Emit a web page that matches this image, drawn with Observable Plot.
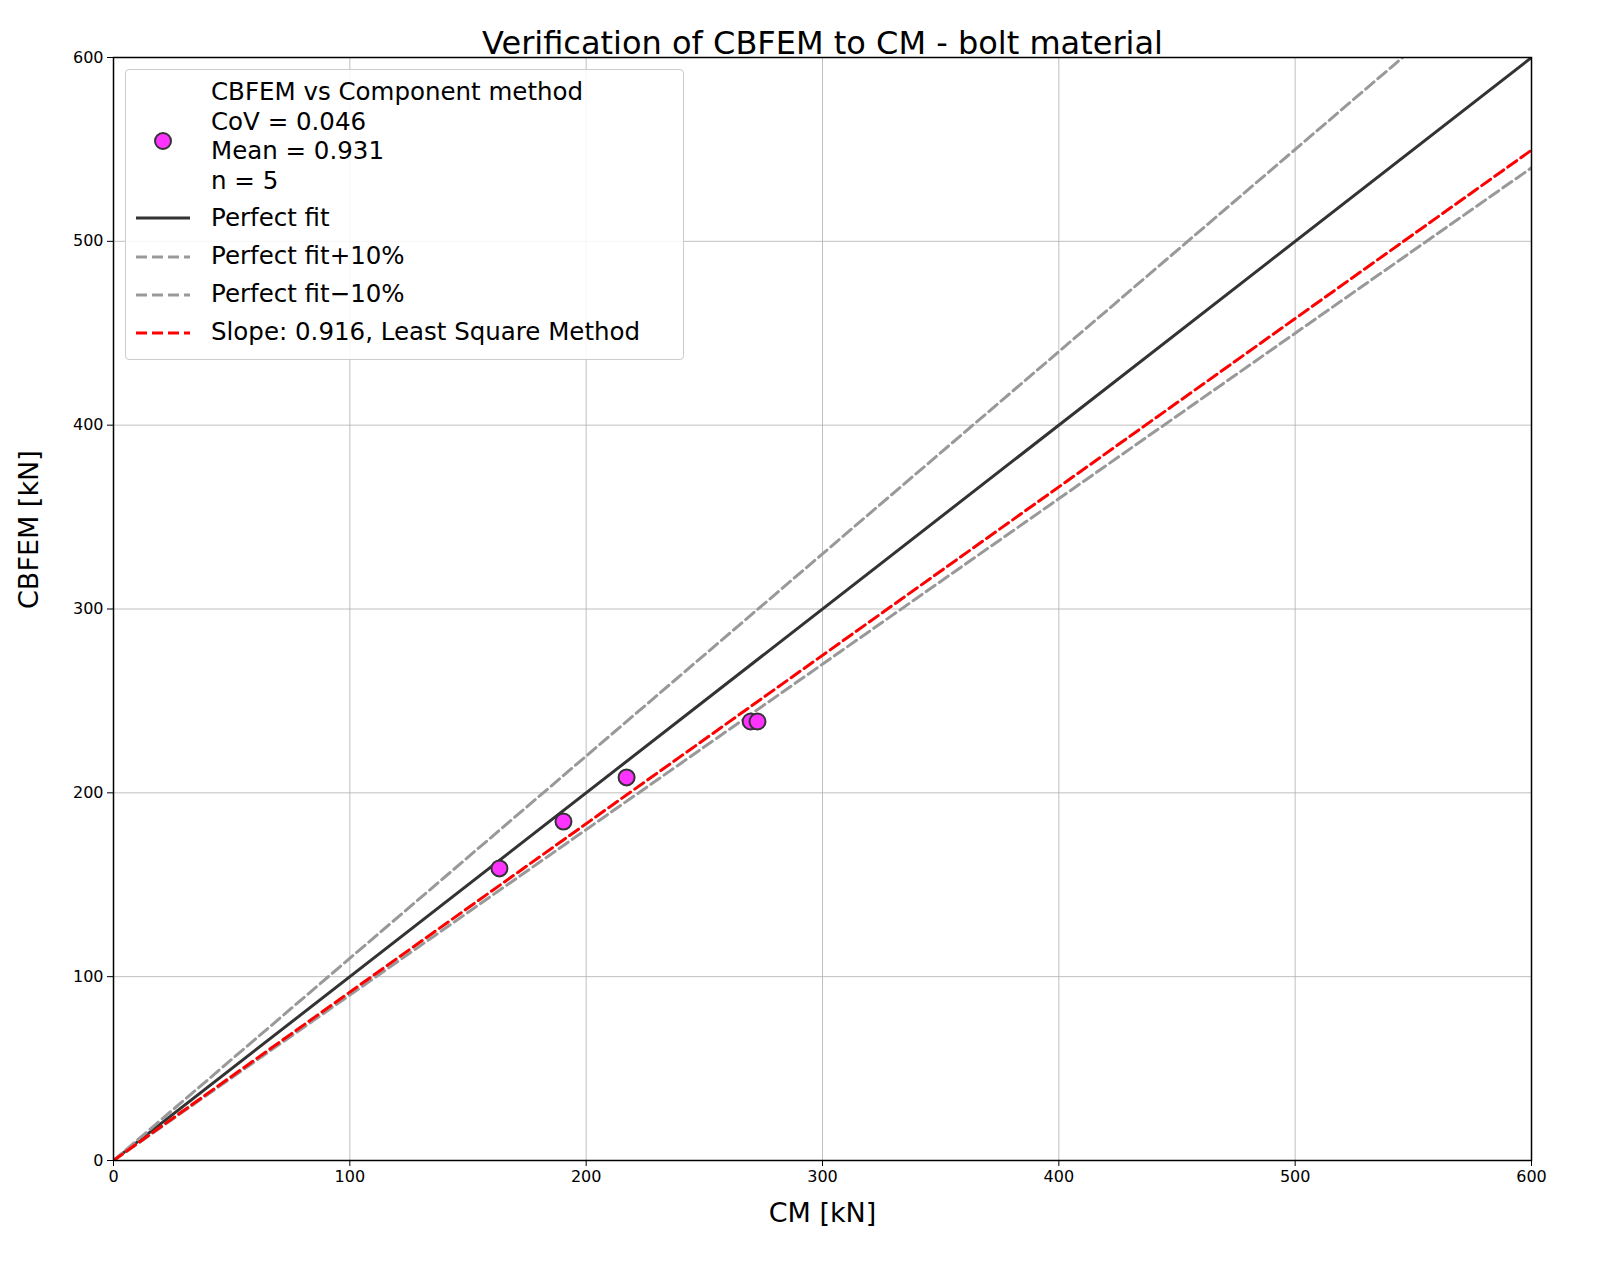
<!DOCTYPE html>
<html><head><meta charset="utf-8">
<script src="https://cdn.jsdelivr.net/npm/d3@7"></script>
<script src="https://cdn.jsdelivr.net/npm/@observablehq/plot@0.6"></script>
<style>
body{margin:0;background:#fff;font-family:"DejaVu Sans",sans-serif;}
#wrap{position:relative;width:1600px;height:1279px;}
#legend{position:absolute;left:125px;top:69px;width:557px;height:289px;border:1px solid #ccc;border-radius:4px;background:rgba(255,255,255,0.85);font-size:24.5px;color:#000;}
.lbl{position:absolute;left:85px;line-height:29.5px;white-space:nowrap;}
</style></head><body>
<div id="wrap"><div id="chart"></div>
<div id="legend">
 <svg width="80" height="289" style="position:absolute;left:0;top:0">
  <circle cx="37" cy="71" r="8" fill="#ff33ff" stroke="#333" stroke-width="2"/>
  <line x1="10" x2="64" y1="148" y2="148" stroke="#333" stroke-width="3"/>
  <line x1="10" x2="64" y1="187" y2="187" stroke="#999" stroke-width="3" stroke-dasharray="11,5"/>
  <line x1="10" x2="64" y1="225" y2="225" stroke="#999" stroke-width="3" stroke-dasharray="11,5"/>
  <line x1="10" x2="64" y1="263" y2="263" stroke="red" stroke-width="3" stroke-dasharray="11,5"/>
 </svg>
 <div class="lbl" style="top:7px">CBFEM vs Component method<br>CoV = 0.046<br>Mean = 0.931<br>n = 5</div>
 <div class="lbl" style="top:133px">Perfect fit</div>
 <div class="lbl" style="top:171px">Perfect fit+10%</div>
 <div class="lbl" style="top:209px">Perfect fit−10%</div>
 <div class="lbl" style="top:247px">Slope: 0.916, Least Square Method</div>
</div></div>
<script>
const cm = [163.3, 190.4, 217.1, 269.6, 272.5];
const cbfem = [158.9, 184.4, 208.4, 238.8, 238.8];
const lineNames = ["Perfect fit", "Perfect fit+10%", "Perfect fit−10%", "Slope: 0.916, Least Square Method"];
const lineSlopes = [1.0, 1.1, 0.9, 0.916];
const lineColors = ["#333", "#999", "#999", "red"];
const lineDash = [null, "11,5", "11,5", "11,5"];
const ticks = [0, 100, 200, 300, 400, 500, 600];
const ends = [0, 600];

const pts = cm.map((x, i) => ({x, y: cbfem[i]}));
const marks = [
  Plot.gridX(ticks, {stroke: "#b0b0b0", strokeOpacity: 0.8, strokeWidth: 1}),
  Plot.gridY(ticks, {stroke: "#b0b0b0", strokeOpacity: 0.8, strokeWidth: 1}),
];
lineNames.forEach((n, i) => {
  marks.push(Plot.line(ends.map(x => ({x, y: x * lineSlopes[i]})), {
    x: "x", y: "y", stroke: lineColors[i], strokeWidth: 3, strokeDasharray: lineDash[i], clip: true
  }));
});
marks.push(
  Plot.dot(pts, {x: "x", y: "y", r: 8, fill: "#ff33ff", stroke: "#333", strokeWidth: 2}),
  Plot.frame({stroke: "#000", strokeWidth: 1.5}),
  Plot.axisX(ticks, {fontSize: 16, tickSize: 6, label: null, tickPadding: 4}),
  Plot.axisY(ticks, {fontSize: 16, tickSize: 6, label: null, tickPadding: 4}),
  Plot.text(["Verification of CBFEM to CM - bolt material"], {frameAnchor: "top", dy: -26, fontSize: 32}),
  Plot.text(["CM [kN]"], {frameAnchor: "bottom", dy: 61, fontSize: 27}),
  Plot.text(["CBFEM [kN]"], {frameAnchor: "left", dx: -84, rotate: -90, fontSize: 27})
);
const chart = Plot.plot({
  width: 1600, height: 1279,
  marginLeft: 113, marginRight: 69, marginTop: 57, marginBottom: 119,
  x: {domain: [0, 600]}, y: {domain: [0, 600]},
  style: {fontFamily: "DejaVu Sans", color: "#000", background: "#fff"},
  marks
});
document.getElementById("chart").appendChild(chart);
</script></body></html>
